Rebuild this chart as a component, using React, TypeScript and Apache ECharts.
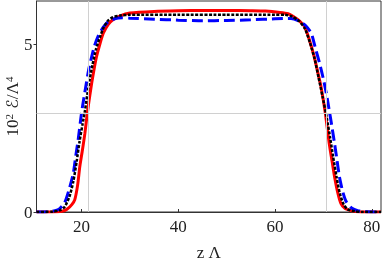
import React, { useEffect, useRef } from "react";
import * as echarts from "echarts";

const xTicks = [20, 40, 60, 80];
const yTicks = [0, 5];
const refX = [21.3, 70.6];
const refY = [2.94];

const zRed = [10.7, 14, 16, 17, 18, 18.6, 19.2, 19.65, 20.2, 20.7, 21.2, 21.7, 22.1, 22.6, 23.1, 23.8, 24.5, 25.5, 26.5, 28, 30, 35, 40, 45, 50, 55, 58, 61, 62.7, 63.8, 64.8, 66.1, 67.1, 68.1, 68.8, 69.5, 70.4, 71.2, 71.8, 72.3, 73, 73.6, 74.5, 75.7, 77, 79, 81.9];
const eRed = [0, 0, 0.02, 0.08, 0.22, 0.36, 0.8, 1.35, 1.85, 2.34, 2.94, 3.45, 3.83, 4.25, 4.62, 5.0, 5.32, 5.58, 5.72, 5.84, 5.92, 5.97, 5.99, 6.0, 6.0, 5.99, 5.98, 5.94, 5.9, 5.82, 5.72, 5.52, 5.12, 4.62, 4.18, 3.73, 2.94, 2.04, 1.5, 1.05, 0.55, 0.26, 0.1, 0.04, 0.01, 0, 0];

const zBlue = [10.7, 13, 14.5, 15.5, 16.5, 17.4, 18.3, 18.8, 19.3, 20, 20.5, 21, 21.5, 22.1, 22.7, 23.4, 24.4, 25.5, 27, 28.5, 30, 35, 40, 45, 50, 55, 60, 63.3, 65, 66.3, 67.5, 68.3, 69.2, 70, 70.6, 71.3, 71.8, 72.3, 72.8, 73.3, 74, 74.7, 75.8, 77.1, 79, 81.9];
const eBlue = [0, 0.01, 0.04, 0.1, 0.27, 0.65, 1.15, 1.65, 2.14, 2.94, 3.4, 3.83, 4.25, 4.62, 4.95, 5.22, 5.48, 5.66, 5.76, 5.78, 5.77, 5.74, 5.71, 5.69, 5.7, 5.72, 5.75, 5.76, 5.68, 5.55, 5.32, 4.9, 4.43, 3.95, 3.53, 2.94, 2.5, 2.04, 1.55, 1.05, 0.6, 0.31, 0.12, 0.04, 0.01, 0];

const zBlack = [10.7, 14, 15.5, 16.5, 17.5, 18.3, 19, 19.6, 20.2, 20.7, 21.2, 21.7, 22.3, 23, 23.8, 24.6, 25.5, 26.5, 28, 30, 40, 50, 60, 62, 63.5, 65, 66.2, 67.2, 68.2, 69, 69.8, 70.7, 71.4, 72, 72.7, 73.4, 74.2, 75, 76.5, 78, 81.9];
const eBlack = [0, 0.01, 0.05, 0.15, 0.45, 0.9, 1.5, 2.1, 2.6, 3.0, 3.5, 3.95, 4.4, 4.85, 5.2, 5.5, 5.7, 5.8, 5.85, 5.87, 5.87, 5.87, 5.87, 5.87, 5.82, 5.68, 5.45, 5.05, 4.55, 4.0, 3.45, 2.8, 2.2, 1.65, 1.05, 0.55, 0.22, 0.08, 0.02, 0, 0];

const pairs = (xs: number[], ys: number[]) => xs.map((x, i) => [x, ys[i]]);

const FONT = "'Liberation Serif', 'DejaVu Serif', serif";

export default function App() {
  const ref = useRef<HTMLDivElement>(null);
  useEffect(() => {
    const chart = echarts.init(ref.current!, null, { renderer: "svg" });
    chart.setOption({
      animation: false,
      grid: {
        left: 36.5,
        right: 1,
        top: 1,
        bottom: 50,
        containLabel: false,
        outerBoundsMode: "none",
        show: true,
        borderColor: "#333",
        borderWidth: 1,
      },
      xAxis: {
        type: "value",
        min: 10.7,
        max: 81.9,
        name: "z Λ",
        nameLocation: "middle",
        nameGap: 32,
        nameMoveOverlap: false,
        nameTextStyle: { fontFamily: FONT, fontSize: 17, color: "#222" },
        axisLine: { show: true, onZero: false, lineStyle: { color: "#333" } },
        axisTick: { show: true, inside: true, length: 3, customValues: xTicks, lineStyle: { color: "#333" } },
        axisLabel: { customValues: xTicks, fontFamily: FONT, fontSize: 17, color: "#222", margin: 6 },
        splitLine: { show: false },
      },
      yAxis: {
        type: "value",
        min: 0,
        max: 6.28,
        name: "{a|10}{s|2}{e| ℰ}{a|/Λ}{s|4}",
        nameLocation: "middle",
        nameGap: 16,
        nameMoveOverlap: false,
        nameTextStyle: {
          rich: {
            a: { fontFamily: FONT, fontSize: 17, color: "#222" },
            e: { fontFamily: "'DejaVu Serif', 'DejaVu Sans', serif", fontSize: 16, color: "#222" },
            s: { fontFamily: FONT, fontSize: 11, color: "#222", verticalAlign: "top", padding: [0, 0, 6, 0] },
          },
        },
        axisLine: { show: true, lineStyle: { color: "#333" } },
        axisTick: { show: true, length: 3, customValues: yTicks, lineStyle: { color: "#333" } },
        axisLabel: { customValues: yTicks, fontFamily: FONT, fontSize: 17, color: "#222", margin: 4 },
        splitLine: { show: false },
      },
      series: [
        {
          type: "line",
          data: [],
          silent: true,
          z: 1,
          markLine: {
            silent: true,
            symbol: "none",
            label: { show: false },
            lineStyle: { color: "#d0d0d0", width: 1, type: "solid" },
            data: [...refX.map((v) => ({ xAxis: v })), ...refY.map((v) => ({ yAxis: v }))],
          },
        },
        {
          type: "line",
          data: pairs(zRed, eRed),
          showSymbol: false,
          smooth: 0.2,
          z: 2,
          lineStyle: { color: "#ff0000", width: 3 },
        },
        {
          type: "line",
          data: pairs(zBlue, eBlue),
          showSymbol: false,
          smooth: 0.2,
          z: 3,
          lineStyle: { color: "#0000ff", width: 3, type: [11, 5] },
        },
        {
          type: "line",
          data: pairs(zBlack, eBlack),
          showSymbol: false,
          smooth: 0.2,
          z: 4,
          lineStyle: { color: "#000000", width: 2.5, type: [3, 1.5] },
        },
      ],
    });
    return () => chart.dispose();
  }, []);
  return <div ref={ref} style={{ position: "fixed", left: 0, top: 0, width: 382, height: 262 }} />;
}
